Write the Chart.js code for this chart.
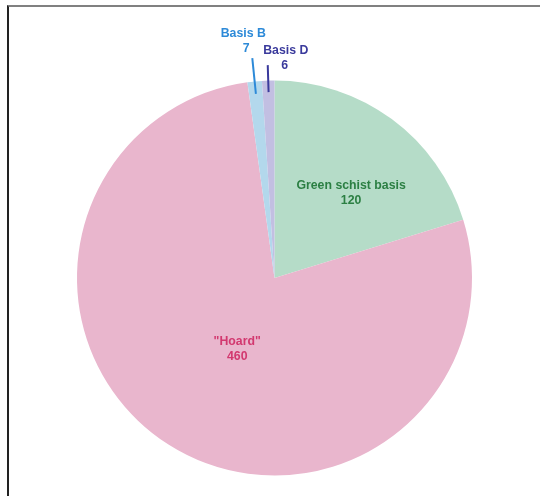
<!DOCTYPE html>
<html>
<head>
<meta charset="utf-8">
<script src="https://cdn.jsdelivr.net/npm/chart.js@4/dist/chart.umd.min.js"></script>
<style>
    html, body { margin: 0; padding: 0; background: #fff; }
    #wrap { position: relative; width: 540px; height: 496px; overflow: hidden; }
    #frame {
        position: absolute; left: 7px; top: 5px; width: 560px; height: 520px;
        border-top: 2px solid #808080; border-left: 2px solid #222;
    }
    canvas { position: absolute; left: 0; top: 0; }
</style>
</head>
<body>
<div id="wrap">
    <div id="frame"></div>
    <canvas id="pieChart" width="540" height="496"></canvas>
</div>
<script>
    const categories = ['Green schist basis', '"Hoard"', 'Basis B', 'Basis D'];
    const counts = [120, 460, 7, 6];

    const sliceColors = ['#b5dcc8', '#e9b6cd', '#b3d8ec', '#c2bfe2'];
    const textColors = ['#2b7f43', '#d2386f', '#2d8ad8', '#3a3a9c'];

    // label placement relative to each slice (angle shift in degrees, radius in px)
    const labelPlace = [
        { shift: 5.8, r: 114 },
        { shift: -4.7, r: 80 },
        { leader: [185, 221], dx: -6, dy: -10, nameDx: -3 },
        { leader: [186, 213], dx: 17, dy: 0, nameDx: 1 }
    ];

    const sliceLabels = {
        id: 'sliceLabels',
        afterDraw(chart) {
            const ctx = chart.ctx;
            const arcs = chart.getDatasetMeta(0).data;
            ctx.save();
            ctx.font = 'bold 12.3px "Liberation Sans", Arial, sans-serif';
            ctx.textAlign = 'center';
            ctx.textBaseline = 'middle';
            arcs.forEach((arc, i) => {
                const p = labelPlace[i];
                const mid = (arc.startAngle + arc.endAngle) / 2;
                ctx.fillStyle = textColors[i];
                ctx.strokeStyle = textColors[i];
                let tx, ty;
                if (p.leader) {
                    const [r0, r1] = p.leader;
                    const x0 = arc.x + r0 * Math.cos(mid), y0 = arc.y + r0 * Math.sin(mid);
                    const x1 = arc.x + r1 * Math.cos(mid), y1 = arc.y + r1 * Math.sin(mid);
                    ctx.lineWidth = 2;
                    ctx.beginPath();
                    ctx.moveTo(x0, y0);
                    ctx.lineTo(x1, y1);
                    ctx.stroke();
                    tx = x1 + p.dx;
                    ty = y1 + p.dy;
                    ctx.fillText(String(counts[i]), tx, ty);
                    ctx.fillText(categories[i], tx + p.nameDx, ty - 15);
                } else {
                    const a = mid + p.shift * Math.PI / 180;
                    tx = arc.x + p.r * Math.cos(a);
                    ty = arc.y + p.r * Math.sin(a);
                    ctx.fillText(categories[i], tx, ty - 7.5);
                    ctx.fillText(String(counts[i]), tx, ty + 7.5);
                }
            });
            ctx.restore();
        }
    };

    new Chart(document.getElementById('pieChart'), {
        type: 'pie',
        data: {
            labels: categories,
            datasets: [{
                data: counts,
                backgroundColor: sliceColors,
                borderWidth: 0
            }]
        },
        options: {
            responsive: false,
            animation: false,
            layout: { padding: { left: 77, right: 68, top: 80, bottom: 20 } },
            plugins: {
                legend: { display: false },
                tooltip: { enabled: false }
            }
        },
        plugins: [sliceLabels]
    });
</script>
</body>
</html>
